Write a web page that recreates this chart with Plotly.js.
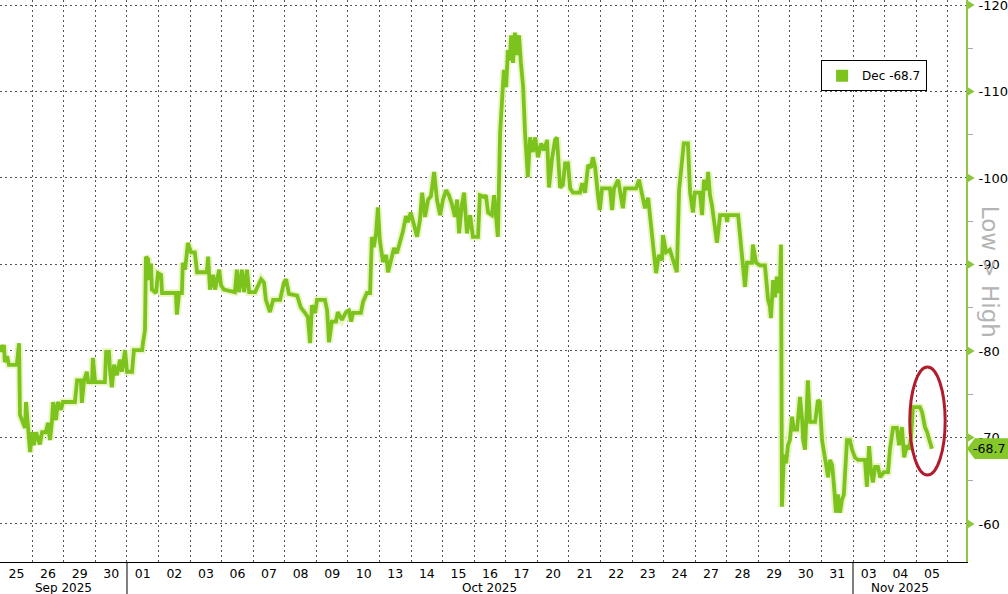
<!DOCTYPE html>
<html><head><meta charset="utf-8">
<script src="https://cdn.plot.ly/plotly-3.0.1.min.js"></script>
<style>html,body{margin:0;padding:0;background:#fff}#chart{width:1008px;height:594px}</style>
</head><body><div id="chart"></div>
<script>
const seriesName = 'Dec';
const dayLabels = ['25','26','29','30','01','02','03','06','07','08','09','10','13','14','15','16','17','20','21','22','23','24','27','28','29','30','31','03','04','05'];
const monthLabels = ['Sep 2025','Oct 2025','Nov 2025'];
const monthStarts = [0, 4, 27];
const yTickVals = [-120,-110,-100,-90,-80,-70,-60];
const yTickText = ['-120','-110','-100','-90','-80','-70','-60'];

// position in trading days (0 = start of Sep 25)
const tPos = [0,0.04,0.10,0.13,0.20,0.26,0.51,0.58,0.61,0.71,
0.77,0.80,0.86,0.93,0.99,1.05,1.12,1.24,1.31,1.43,
1.50,1.56,1.62,1.66,1.75,1.81,1.91,1.97,2.35,2.42,
2.54,2.57,2.64,2.73,2.77,2.89,2.92,2.99,3.30,3.34,
3.43,3.46,3.52,3.59,3.68,3.78,3.84,3.94,4.00,4.16,
4.22,4.48,4.51,4.57,4.60,4.67,4.70,4.76,4.79,4.92,
4.98,5.08,5.11,5.55,5.58,5.65,5.74,5.77,5.84,5.90,
5.93,6.03,6.15,6.22,6.53,6.57,6.63,6.73,6.79,6.92,
6.98,7.07,7.42,7.48,7.55,7.64,7.71,7.80,7.87,8.06,
8.15,8.25,8.34,8.40,8.53,8.63,8.85,8.97,9.04,9.13,
9.39,9.51,9.64,9.73,9.80,9.86,9.96,10.02,10.27,10.34,
10.40,10.49,10.62,10.68,10.81,10.94,11.03,11.10,11.16,11.41,
11.48,11.60,11.70,11.76,11.82,11.89,11.95,12.01,12.11,12.21,
12.27,12.36,12.46,12.55,12.65,12.74,12.84,12.90,12.99,13.09,
13.19,13.28,13.35,13.44,13.54,13.63,13.73,13.82,13.92,14.01,
14.11,14.20,14.30,14.39,14.46,14.52,14.61,14.68,14.74,14.77,
14.87,14.96,15.12,15.18,15.31,15.37,15.44,15.56,15.63,15.69,
15.75,15.82,15.88,15.94,16.01,16.07,16.13,16.17,16.23,16.29,
16.36,16.42,16.48,16.55,16.61,16.70,16.77,16.86,16.93,17.02,
17.12,17.21,17.31,17.37,17.46,17.56,17.62,17.72,17.81,17.88,
17.97,18.04,18.13,18.35,18.42,18.51,18.61,18.70,18.76,18.83,
18.92,18.98,19.05,19.30,19.37,19.43,19.56,19.65,19.71,19.78,
20.13,20.22,20.32,20.41,20.51,20.57,20.63,20.70,20.76,20.85,
20.95,20.98,21.08,21.20,21.27,21.36,21.42,21.49,21.58,21.64,
21.77,21.84,21.93,21.99,22.15,22.22,22.28,22.38,22.41,22.47,
22.53,22.60,22.69,22.79,22.98,23.01,23.04,23.36,23.45,23.52,
23.58,23.64,23.80,23.83,23.93,24.05,24.21,24.31,24.37,24.40,
24.47,24.53,24.59,24.66,24.69,24.72,24.75,24.81,24.88,24.94,
25.00,25.07,25.13,25.23,25.32,25.39,25.42,25.48,25.57,25.64,
25.80,25.89,25.95,26.02,26.11,26.21,26.27,26.34,26.40,26.46,
26.52,26.59,26.65,26.71,26.81,26.90,26.97,27.06,27.16,27.38,
27.44,27.51,27.57,27.63,27.70,27.79,27.86,27.98,28.11,28.17,
28.27,28.39,28.46,28.55,28.62,28.71,28.77,28.84,28.90,29.12,
29.19,29.28,29.35,29.41,29.50];

const values = [-80.7,-79.9,-80.7,-78.7,-79.4,-78.4,-78.4,-80.9,-72.6,-71.8,
-71.1,-74.1,-70.9,-68.3,-70.6,-69.1,-70.6,-69.2,-70.6,-70.6,
-71.7,-69.7,-71.7,-74.1,-72.0,-74.1,-73.2,-74.1,-74.1,-76.6,
-76.6,-74.0,-76.6,-77.6,-76.4,-76.4,-79.2,-76.4,-76.4,-79.9,
-79.9,-77.8,-75.8,-78.4,-77.2,-79.0,-77.6,-80.1,-77.6,-77.6,
-80.1,-80.1,-81.0,-82.4,-90.9,-90.6,-88.2,-90.1,-87.1,-86.7,
-89.0,-88.8,-86.7,-86.7,-84.2,-86.7,-86.7,-90.2,-89.4,-91.7,
-92.5,-91.4,-91.4,-89.1,-89.1,-90.9,-87.1,-88.8,-87.1,-89.4,
-87.6,-87.1,-86.8,-89.4,-86.8,-89.4,-86.8,-89.4,-86.8,-86.8,
-87.6,-88.3,-87.9,-85.9,-84.5,-85.9,-85.9,-87.9,-88.3,-86.6,
-86.4,-85.0,-84.4,-83.9,-80.9,-85.3,-84.4,-85.9,-85.9,-84.7,
-81.0,-83.4,-83.4,-84.5,-83.6,-84.5,-84.7,-83.4,-84.4,-84.4,
-85.7,-86.7,-86.7,-93.2,-92.0,-93.6,-96.6,-92.8,-90.3,-91.1,
-89.1,-90.3,-91.9,-91.3,-92.5,-93.8,-95.6,-94.9,-96.0,-94.6,
-93.2,-95.1,-98.3,-95.5,-97.5,-97.9,-100.7,-97.5,-95.7,-97.5,
-98.6,-98.0,-96.9,-95.5,-97.5,-93.6,-96.9,-98.3,-95.1,-93.6,
-95.7,-93.2,-93.2,-98.0,-97.8,-98.0,-96.0,-95.7,-98.0,-95.1,
-93.2,-105.2,-109.0,-112.5,-110.5,-114.8,-113.6,-116.5,-113.3,-116.8,
-114.2,-116.5,-113.3,-110.5,-105.2,-100.1,-104.7,-103.0,-104.7,-102.4,
-104.0,-103.2,-104.4,-98.9,-102.1,-104.4,-104.7,-98.9,-99.2,-101.7,
-101.7,-98.8,-98.3,-98.3,-99.4,-98.3,-101.5,-101.2,-102.4,-101.3,
-98.0,-96.3,-98.8,-98.8,-96.3,-98.8,-99.8,-97.5,-96.5,-98.8,
-98.8,-99.8,-98.3,-96.5,-97.7,-95.7,-93.4,-91.4,-89.0,-91.1,
-90.5,-93.4,-91.4,-91.7,-90.9,-89.9,-89.1,-98.6,-101.7,-104.0,
-104.0,-98.3,-96.0,-98.3,-98.3,-95.7,-99.8,-98.6,-100.7,-98.0,
-96.9,-94.9,-92.5,-95.7,-95.7,-94.9,-95.7,-95.7,-92.3,-89.7,
-87.4,-90.2,-90.2,-92.3,-90.2,-89.9,-89.9,-85.9,-85.1,-83.8,
-88.2,-86.2,-88.6,-86.7,-88.2,-92.3,-62.0,-68.0,-67.0,-69.1,
-69.7,-72.4,-70.9,-70.9,-74.7,-72.0,-69.7,-68.6,-76.6,-71.8,
-71.8,-74.3,-74.1,-69.7,-67.4,-65.4,-67.4,-66.8,-64.3,-61.3,
-63.4,-61.3,-62.8,-63.4,-69.7,-69.7,-68.6,-67.7,-67.4,-67.4,
-64.3,-69.0,-66.2,-64.8,-66.6,-66.6,-65.4,-66.0,-66.0,-68.6,
-71.1,-71.1,-69.1,-71.2,-67.7,-69.1,-68.6,-70.1,-73.5,-73.5,
-72.9,-71.2,-70.6,-69.7,-68.7];

const lineColor = '#7dc31e';
const last = values[values.length - 1];
const lastStr = last.toFixed(1);
const nDays = dayLabels.length;

const traces = [
  {type:'scatter', mode:'lines', x:tPos, y:values, showlegend:false, hoverinfo:'skip',
   line:{color:'rgba(232,244,190,0.9)', width:7.5}},
  {type:'scatter', mode:'lines', x:tPos, y:values, showlegend:false,
   line:{color:lineColor, width:3.8}},
  {type:'scatter', mode:'markers', x:[null], y:[null], name: seriesName + ' ' + lastStr,
   marker:{symbol:'square', size:12, color:lineColor}}
];

const shapes = [];
// month separators below axis
monthStarts.slice(1).forEach(m => shapes.push({type:'line', xref:'x', yref:'paper', x0:m, x1:m, y0:0, y1:-0.06, line:{color:'#000', width:1}}));
// green tick triangles on the right axis
yTickVals.forEach(v => shapes.push({type:'path', xref:'paper', yref:'y',
  path:`M 1.001,${v-0.55} L 1.009,${v} L 1.001,${v+0.55} Z`, fillcolor:'#8cc63f', line:{width:0}}));
// last value tag
shapes.push({type:'path', xref:'paper', yref:'y',
  path:`M 1.001,${last} L 1.009,${last-1.2} L 1.045,${last-1.2} L 1.045,${last+1.2} L 1.009,${last+1.2} Z`,
  fillcolor:'#86c82a', line:{width:0}});
// red highlight ellipse
shapes.push({type:'circle', xref:'x', yref:'y', x0:28.8, x1:29.92, y0:-78.15, y1:-65.66,
  line:{color:'#b01c2e', width:3}});

const annotations = [];
monthLabels.forEach((lab, i) => {
  const s = monthStarts[i], e = (i + 1 < monthStarts.length) ? monthStarts[i+1] : nDays;
  annotations.push({xref:'x', yref:'paper', x:(s+e)/2, y:-0.047, text:lab, showarrow:false,
    xanchor:'center', yanchor:'middle', font:{size:12, color:'#000'}});
});
annotations.push({xref:'paper', yref:'y', x:1.0425, y:last, text:lastStr, showarrow:false,
  xanchor:'right', yanchor:'middle', font:{size:12.5, color:'#000'}});
annotations.push({xref:'paper', yref:'paper', x:1.025, y:0.516, text:'Low > High', showarrow:false,
  textangle:90, xanchor:'center', yanchor:'middle', font:{size:23, color:'#b4b4b4'}});

const layout = {
  width:1008, height:594,
  margin:{l:0, r:42, t:0, b:32, pad:0},
  paper_bgcolor:'#fff', plot_bgcolor:'#fff',
  font:{family:'DejaVu Sans, Verdana, sans-serif', size:12, color:'#000'},
  showlegend:true,
  legend:{x:0.85, xanchor:'left', y:0.893, yanchor:'top', bgcolor:'#fff', bordercolor:'#000', borderwidth:1,
    font:{size:12, color:'#000'}, itemwidth:30},
  xaxis:{range:[-0.023, 30.58], tickmode:'array', tickvals:dayLabels.map((_, i) => i + 0.5), ticktext:dayLabels,
    showgrid:false, zeroline:false, showline:true, linecolor:'#000', linewidth:1, ticks:'',
    tickfont:{size:12.5, color:'#000'},
    minor:{tickmode:'linear', tick0:0, dtick:1, showgrid:true, gridcolor:'#555', griddash:'2px,3px', gridwidth:1, ticks:''}},
  yaxis:{side:'right', range:[-55.6, -120.58], tickmode:'array', tickvals:yTickVals, ticktext:yTickText,
    showgrid:true, gridcolor:'#555', griddash:'2px,3px', gridwidth:1, zeroline:false,
    showline:true, linecolor:'#8dc63f', linewidth:2, ticks:'', ticklabelstandoff:8,
    ticklabeloverflow:'allow', tickfont:{size:13, color:'#000'},
    minor:{tickmode:'linear', tick0:-120, dtick:5, ticks:'outside', ticklen:5, tickcolor:'#aaa', showgrid:false}},
  shapes:shapes, annotations:annotations
};

Plotly.newPlot('chart', traces, layout, {displayModeBar:false, staticPlot:true});
</script>
</body></html>
